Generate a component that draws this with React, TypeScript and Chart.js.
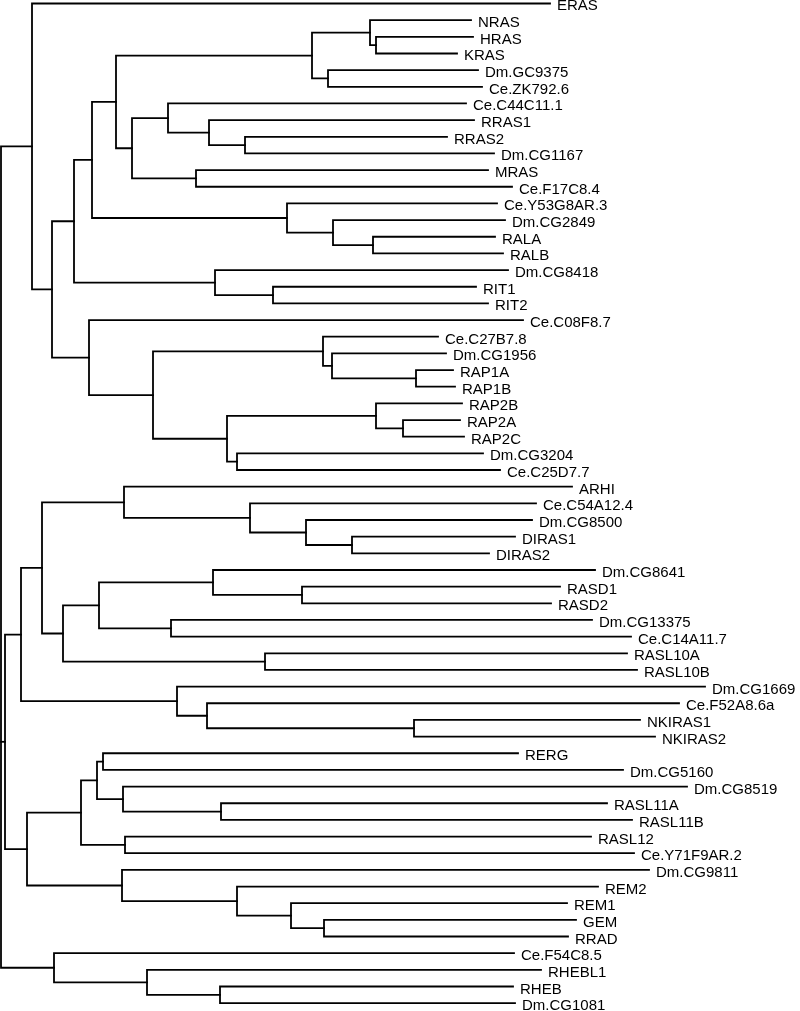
import React, { useEffect, useRef } from "react";
import { Chart, registerables } from "chart.js";

Chart.register(...registerables);

// Leaves, top to bottom
const leafNames: string[] = [
  "ERAS", "NRAS", "HRAS", "KRAS", "Dm.GC9375", "Ce.ZK792.6", "Ce.C44C11.1", "RRAS1", "RRAS2", "Dm.CG1167",
  "MRAS", "Ce.F17C8.4", "Ce.Y53G8AR.3", "Dm.CG2849", "RALA", "RALB", "Dm.CG8418", "RIT1", "RIT2", "Ce.C08F8.7",
  "Ce.C27B7.8", "Dm.CG1956", "RAP1A", "RAP1B", "RAP2B", "RAP2A", "RAP2C", "Dm.CG3204", "Ce.C25D7.7", "ARHI",
  "Ce.C54A12.4", "Dm.CG8500", "DIRAS1", "DIRAS2", "Dm.CG8641", "RASD1", "RASD2", "Dm.CG13375", "Ce.C14A11.7", "RASL10A",
  "RASL10B", "Dm.CG1669", "Ce.F52A8.6a", "NKIRAS1", "NKIRAS2", "RERG", "Dm.CG5160", "Dm.CG8519", "RASL11A", "RASL11B",
  "RASL12", "Ce.Y71F9AR.2", "Dm.CG9811", "REM2", "REM1", "GEM", "RRAD", "Ce.F54C8.5", "RHEBL1", "RHEB",
  "Dm.CG1081",
];

// Cumulative branch length (tip position) of each leaf
const leafTipX: number[] = [
  550, 471, 473, 457, 478, 482, 466, 474, 447, 494,
  488, 512, 497, 505, 495, 503, 508, 476, 488, 523,
  438, 446, 453, 455, 462, 460, 464, 483, 500, 572,
  536, 532, 515, 489, 595, 560, 551, 592, 631, 627,
  637, 705, 679, 640, 655, 518, 623, 687, 607, 632,
  591, 634, 649, 598, 567, 576, 568, 514, 541, 513,
  515,
];

// Internal nodes
const nodeIds: string[] = [
  "root", "A", "B", "C", "E", "G", "I", "K", "M", "L",
  "J", "N", "P", "Q", "O", "H", "R", "S", "F", "T",
  "D", "U", "V", "X", "Y", "W", "Z", "AB", "AA", "GG",
  "EE", "BB", "CC", "II", "JJ", "KK", "DD", "LL", "NN", "PP",
  "OO", "MM", "FF", "QQ", "RR", "HH", "SS", "UU", "WW", "XX",
  "YY", "VV", "TT", "ZZ", "AAA", "BBB", "CCC", "DDD", "EEE",
];

const nodeX: number[] = [
  1, 32, 52, 74, 92, 116, 312, 370, 376, 328,
  132, 168, 209, 245, 196, 287, 333, 373, 215, 273,
  89, 153, 323, 332, 416, 227, 376, 403, 237, 5,
  21, 42, 124, 250, 306, 352, 63, 99, 213, 302,
  171, 265, 177, 207, 414, 27, 81, 97, 103, 123,
  221, 125, 122, 237, 291, 324, 54, 147, 220,
];

const nodeKids: string[][] = [
  ["A", "GG", "CCC"],
  ["ERAS", "B"],
  ["C", "D"],
  ["E", "F"],
  ["G", "H"],
  ["I", "J"],
  ["K", "L"],
  ["NRAS", "M"],
  ["HRAS", "KRAS"],
  ["Dm.GC9375", "Ce.ZK792.6"],
  ["N", "O"],
  ["Ce.C44C11.1", "P"],
  ["RRAS1", "Q"],
  ["RRAS2", "Dm.CG1167"],
  ["MRAS", "Ce.F17C8.4"],
  ["Ce.Y53G8AR.3", "R"],
  ["Dm.CG2849", "S"],
  ["RALA", "RALB"],
  ["Dm.CG8418", "T"],
  ["RIT1", "RIT2"],
  ["Ce.C08F8.7", "U"],
  ["V", "W"],
  ["Ce.C27B7.8", "X"],
  ["Dm.CG1956", "Y"],
  ["RAP1A", "RAP1B"],
  ["Z", "AA"],
  ["RAP2B", "AB"],
  ["RAP2A", "RAP2C"],
  ["Dm.CG3204", "Ce.C25D7.7"],
  ["EE", "HH"],
  ["BB", "FF"],
  ["CC", "DD"],
  ["ARHI", "II"],
  ["Ce.C54A12.4", "JJ"],
  ["Dm.CG8500", "KK"],
  ["DIRAS1", "DIRAS2"],
  ["LL", "MM"],
  ["NN", "OO"],
  ["Dm.CG8641", "PP"],
  ["RASD1", "RASD2"],
  ["Dm.CG13375", "Ce.C14A11.7"],
  ["RASL10A", "RASL10B"],
  ["Dm.CG1669", "QQ"],
  ["Ce.F52A8.6a", "RR"],
  ["NKIRAS1", "NKIRAS2"],
  ["SS", "TT"],
  ["UU", "VV"],
  ["WW", "XX"],
  ["RERG", "Dm.CG5160"],
  ["Dm.CG8519", "YY"],
  ["RASL11A", "RASL11B"],
  ["RASL12", "Ce.Y71F9AR.2"],
  ["Dm.CG9811", "ZZ"],
  ["REM2", "AAA"],
  ["REM1", "BBB"],
  ["GEM", "RRAD"],
  ["Ce.F54C8.5", "DDD"],
  ["RHEBL1", "EEE"],
  ["RHEB", "Dm.CG1081"],
];

type Pt = { x: number; y: number };

function buildTree() {
  const pos: Record<string, Pt> = {};
  leafNames.forEach((n, i) => {
    pos[n] = { x: leafTipX[i], y: i };
  });
  const nodeIndex: Record<string, number> = {};
  nodeIds.forEach((id, i) => (nodeIndex[id] = i));
  const resolve = (id: string): Pt => {
    if (pos[id]) return pos[id];
    const k = nodeIndex[id];
    const kids = nodeKids[k].map(resolve);
    const p = { x: nodeX[k], y: (kids[0].y + kids[kids.length - 1].y) / 2 };
    pos[id] = p;
    return p;
  };
  nodeIds.forEach(resolve);
  const segs: Pt[][] = [];
  nodeIds.forEach((id, k) => {
    const p = pos[id];
    const kids = nodeKids[k].map((c) => pos[c]);
    const first = kids[0];
    const last = kids[kids.length - 1];
    segs.push([
      { x: first.x, y: first.y },
      { x: p.x, y: first.y },
      { x: p.x, y: last.y },
      { x: last.x, y: last.y },
    ]);
    for (let j = 1; j < kids.length - 1; j++) {
      segs.push([
        { x: p.x, y: kids[j].y },
        { x: kids[j].x, y: kids[j].y },
      ]);
    }
  });
  return segs;
}

const labelPlugin = {
  id: "leafLabels",
  afterDatasetsDraw(chart: any) {
    const { ctx, scales } = chart;
    ctx.save();
    ctx.fillStyle = "#000";
    ctx.font = '15px "Liberation Sans", Arial, sans-serif';
    ctx.textAlign = "left";
    ctx.textBaseline = "alphabetic";
    leafNames.forEach((name, i) => {
      const px = scales.x.getPixelForValue(leafTipX[i]) + 7;
      const py = scales.y.getPixelForValue(i) + 7;
      ctx.fillText(name, px, py);
    });
    ctx.restore();
  },
};

export default function App() {
  const ref = useRef<HTMLCanvasElement | null>(null);
  useEffect(() => {
    if (!ref.current) return;
    const segs = buildTree();
    const chart = new Chart(ref.current, {
      type: "scatter",
      data: {
        datasets: segs.map((s) => ({
          data: s,
          showLine: true,
          borderColor: "#000",
          borderWidth: 1.8,
          pointRadius: 0,
          pointHoverRadius: 0,
          tension: 0,
          fill: false,
          borderJoinStyle: "miter" as const,
          borderCapStyle: "square" as const,
          clip: false as any,
        })),
      },
      options: {
        responsive: false,
        maintainAspectRatio: false,
        animation: false,
        events: [],
        layout: { padding: 0 },
        plugins: { legend: { display: false }, tooltip: { enabled: false } },
        scales: {
          x: { type: "linear", min: 0, max: 800, display: false },
          y: { type: "linear", min: -0.21, max: 60.47, reverse: true, display: false },
        },
      },
      plugins: [labelPlugin],
    });
    return () => chart.destroy();
  }, []);
  return (
    <div style={{ position: "fixed", left: 0, top: 0, width: 800, height: 1011, background: "#fff" }}>
      <canvas ref={ref} width={800} height={1011} style={{ display: "block" }} />
    </div>
  );
}
